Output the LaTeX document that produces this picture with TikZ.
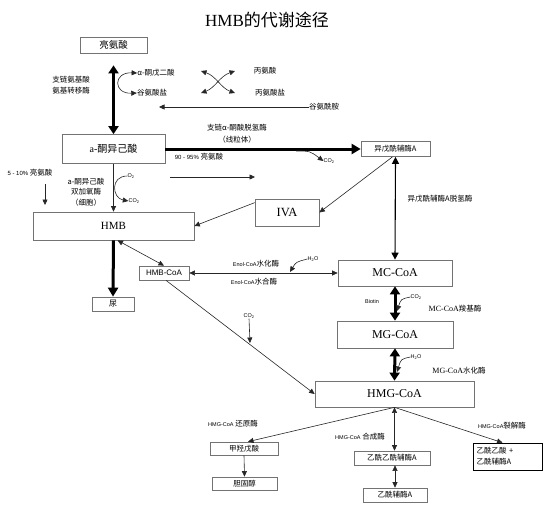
\documentclass[tikz,border=0pt]{standalone}
\usepackage{fontspec}
\setmainfont{Liberation Serif}
\newfontfamily\cjk{Noto Sans CJK SC}
\newfontfamily\arl{Liberation Sans}
\usetikzlibrary{arrows.meta,calc}
\tikzset{
 bx/.style={draw=black!55, line width=0.7pt, rectangle, inner sep=0pt, align=center},
 lbl/.style={inner sep=0pt, font=\cjk\fontsize{7.5}{11}\selectfont, align=center},
 sm/.style={inner sep=0pt, font=\arl\fontsize{5.5}{6}\selectfont},
 tn/.style={line width=0.6pt, draw=black!85, -{Triangle[length=5.5pt,width=5pt]}},
 tnd/.style={line width=0.6pt, draw=black!85, {Triangle[length=5.5pt,width=5pt]}-{Triangle[length=5.5pt,width=5pt]}},
 md/.style={line width=1.1pt, {Triangle[length=7pt,width=7pt]}-{Triangle[length=7pt,width=7pt]}},
 tk/.style={line width=3pt, -{Triangle[length=9pt,width=10pt]}},
 tkd/.style={line width=3pt, {Triangle[length=8pt,width=10pt]}-{Triangle[length=8pt,width=10pt]}},
}
\begin{document}
\begin{tikzpicture}[x=1pt,y=-1pt]
\useasboundingbox (0,0) rectangle (556,504);
% title
\node[anchor=west, inner sep=0pt, font=\fontsize{17}{19}\selectfont] (title) at (205,20) {HMB{\cjk 的代谢途径}};
% boxes
\node[bx, minimum width=67pt, minimum height=16pt, font=\cjk\fontsize{9.5}{11}\selectfont] (leu) at (113.5,45) {亮氨酸};
\node[bx, minimum width=103pt, minimum height=29pt, font=\fontsize{10}{12}\selectfont] (kic) at (113.5,149) {a-{\cjk 酮异己酸}};
\node[bx, minimum width=161pt, minimum height=28pt, font=\fontsize{11}{12}\selectfont] (hmb) at (113.5,226) {HMB};
\node[bx, minimum width=64pt, minimum height=27pt, font=\fontsize{12.5}{13}\selectfont] (iva) at (287,212.5) {IVA};
\node[bx, minimum width=69pt, minimum height=15pt, font=\cjk\fontsize{7.5}{9}\selectfont] (ivacoa) at (395.5,149) {异戊酰辅酶A};
\node[bx, minimum width=114pt, minimum height=26pt, font=\fontsize{12}{13}\selectfont] (mccoa) at (395,273) {MC-CoA};
\node[bx, minimum width=116pt, minimum height=27pt, font=\fontsize{12}{13}\selectfont] (mgcoa) at (395,334.5) {MG-CoA};
\node[bx, minimum width=159pt, minimum height=26pt, font=\fontsize{12}{13}\selectfont] (hmgcoa) at (394.5,394) {HMG-CoA};
\node[bx, minimum width=50pt, minimum height=14pt, font=\arl\fontsize{8}{9}\selectfont] (hmbcoa) at (164,273) {HMB-CoA};
\node[bx, minimum width=42pt, minimum height=14pt, font=\cjk\fontsize{8}{9}\selectfont] (urine) at (113,304) {尿};
\node[bx, minimum width=68pt, minimum height=13pt, font=\cjk\fontsize{7.5}{9}\selectfont] (mva) at (244,448.5) {甲羟戊酸};
\node[bx, minimum width=65pt, minimum height=13pt, font=\cjk\fontsize{7.5}{9}\selectfont] (chol) at (244.5,483.5) {胆固醇};
\node[bx, minimum width=76pt, minimum height=14pt, font=\cjk\fontsize{7.5}{9}\selectfont] (acacoa) at (392,458) {乙酰乙酰辅酶A};
\node[bx, minimum width=64pt, minimum height=14pt, font=\cjk\fontsize{7.5}{9}\selectfont] (acoa) at (395,495) {乙酰辅酶A};
\node[bx, draw=black, minimum width=69pt, minimum height=27pt, text width=62pt, align=left, font=\cjk\fontsize{7.5}{11}\selectfont] (acac) at (507.5,456.5) {乙酰乙酸 +\\乙酰辅酶A};
% labels
\node[lbl] (akg) at (156,73) {α-酮戊二酸};
\node[lbl] (glu) at (152,93) {谷氨酸盐};
\node[lbl] (ala) at (265,71) {丙氨酸};
\node[lbl] (alat) at (270,93) {丙氨酸盐};
\node[lbl] (gln) at (324,107) {谷氨酰胺};
\node[lbl] (bcat) at (71,85) {支链氨基酸\\氨基转移酶};
\node[lbl, font=\cjk\fontsize{7.5}{12}\selectfont] (bckd) at (237,134) {支链α-酮酸脱氢酶\\（线粒体）};
\node[lbl] (p90) at (199,157) {{\arl\fontsize{6}{7}\selectfont 90 - 95\%} 亮氨酸};
\node[lbl] (p5) at (30,173) {{\arl\fontsize{6}{7}\selectfont 5 - 10\%} 亮氨酸};
\node[lbl, font=\cjk\fontsize{7.5}{10.5}\selectfont] (kicd) at (86,192) {a-酮异己酸\\双加氧酶\\（细胞）};
\node[sm] (o2) at (131,176) {O\textsubscript{2}};
\node[sm] (co2a) at (134,201) {CO\textsubscript{2}};
\node[sm] (co2b) at (329,161) {CO\textsubscript{2}};
\node[lbl] (ivadh) at (440,199) {异戊酰辅酶A脱氢酶};
\node[lbl] (enol1) at (256,264) {{\arl\fontsize{5.5}{6}\selectfont Enol-CoA}水化酶};
\node[lbl] (enol2) at (254,282) {{\arl\fontsize{5.5}{6}\selectfont Enol-CoA}水合酶};
\node[sm] (h2oa) at (313,259) {H\textsubscript{2}O};
\node[sm] (biotin) at (372,302) {Biotin};
\node[sm] (co2c) at (416,297) {CO\textsubscript{2}};
\node[lbl] (mccl) at (455,309) {{\fontspec{Liberation Serif}\fontsize{8}{9}\selectfont MC-CoA}羧基酶};
\node[sm] (h2ob) at (416,357) {H\textsubscript{2}O};
\node[lbl] (mgh) at (459,371) {{\fontspec{Liberation Serif}\fontsize{8}{9}\selectfont MG-CoA}水化酶};
\node[sm] (co2d) at (249,316) {CO\textsubscript{2}};
\node[lbl] (red) at (233,424) {{\arl\fontsize{5.5}{6}\selectfont HMG-CoA} 还原酶};
\node[lbl] (syn) at (360,437) {{\arl\fontsize{5.5}{6}\selectfont HMG-CoA} 合成酶};
\node[lbl] (lya) at (502,426) {{\arl\fontsize{5.5}{6}\selectfont HMG-CoA}裂解酶};
% coordinates
\coordinate (x1) at (201,71);
\coordinate (x2) at (235,71);
\coordinate (x3) at (201,93);
\coordinate (x4) at (235,93);
\coordinate (glnend) at (159,107);
\coordinate (c2s) at (296,151);
\coordinate (h1) at (170,177);
\coordinate (h2) at (255,177);
\coordinate (p5a) at (45,184);
\coordinate (p5b) at (45,205);
\coordinate (ho) at (290,272);
\coordinate (cc) at (397,311);
\coordinate (hh) at (397,372);
\coordinate (co) at (250,343);
% connectors
\draw[tkd] ($(leu.south)+(0,12)$) -- (kic.north);
\draw[tnd] (akg.west) .. controls (113,72) and (113,94) .. (glu.west);
\draw[tnd] (x1) .. controls (216,76) and (221,88) .. (x4);
\draw[tnd] (x2) .. controls (220,76) and (215,88) .. (x3);
\draw[tn] (gln.west) -- (glnend);
\draw[tk] (kic.east) -- (ivacoa.west);
\draw[tn] (c2s) .. controls (310,151) .. (co2b.west);
\draw[tn] (h1) -- (h2);
\draw[tn] (kic.south) -- (hmb.north);
\draw[tn] (o2.west) .. controls (110,176) and (112,198) .. (co2a.west);
\draw[tn] (p5a) -- (p5b);
\draw[tn] ($(iva.north west)+(0,4)$) -- (hmb.east);
\draw[tn] ($(ivacoa.south)+(-3,0)$) -- (iva.east);
\draw[md] (ivacoa.south) -- (mccoa.north);
\draw[tk] (hmb.south) -- (urine.north);
\draw[tnd] ($(hmb.south)+(4,0)$) -- (hmbcoa.north);
\draw[tnd] (hmbcoa.east) -- (mccoa.west);
\draw[tn] (h2oa.west) .. controls (296,262) .. (ho);
\draw[tkd] (mccoa.south) -- (mgcoa.north);
\draw[tn] (co2c.west) .. controls (401,299) .. (cc);
\draw[tkd] (mgcoa.south) -- (hmgcoa.north);
\draw[tn] (h2ob.west) .. controls (401,359) .. (hh);
\draw[tn] ($(hmbcoa.south)+(2,0)$) -- (hmgcoa.west);
\draw[tn] (co2d.south) -- (co);
\draw[tn] (hmgcoa.south) -- ($(mva.north)+(4,0)$);
\draw[tnd] (hmgcoa.south) -- (hmgcoa.south |- acacoa.north);
\draw[tn] (hmgcoa.south) -- ($(acac.north)+(-5,0)$);
\draw[tn] (mva.south) -- (chol.north);
\draw[tnd] (acoa.north |- acacoa.south) -- (acoa.north);
\end{tikzpicture}
\end{document}
